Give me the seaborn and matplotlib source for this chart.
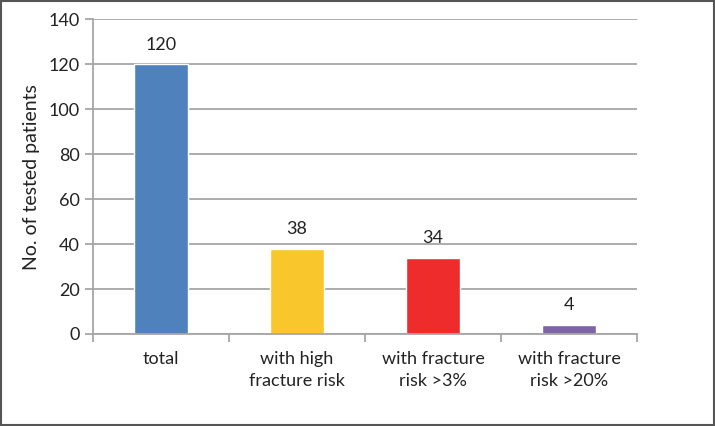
import pandas as pd
import matplotlib.pyplot as plt
import seaborn as sns

# chart data
categories = ["total", "with high\nfracture risk", "with fracture\nrisk >3%", "with fracture\nrisk >20%"]
patients = [120, 38, 34, 4]
bar_colors = ["#4F81BD", "#F9C62B", "#EE2C2C", "#7F63A8"]

df = pd.DataFrame({"group": categories, "patients": patients})

sns.set_style("white")
plt.rcParams["font.family"] = ["Lato", "DejaVu Sans"]

fig = plt.figure(figsize=(7.15, 4.26), dpi=100)
ax = fig.add_axes([0.130, 0.216, 0.761, 0.739])

sns.barplot(data=df, x="group", y="patients", hue="group", palette=bar_colors,
            width=0.4, legend=False, ax=ax, saturation=1)

# value labels above bars
for i, v in enumerate(patients):
    ax.text(i, v + 6.5, str(v), ha="center", va="baseline", fontsize=13, color="#222222")

ax.set_ylim(0, 140)
ax.set_xlim(-0.5, 3.5)
ax.set_yticks(range(0, 141, 20))
ax.yaxis.grid(True, color="#a6a6a6", linewidth=1.3)
ax.set_axisbelow(True)

for side in ["top", "right"]:
    ax.spines[side].set_visible(False)
ax.spines["left"].set_color("#a6a6a6")
ax.spines["bottom"].set_color("#a6a6a6")
ax.spines["left"].set_linewidth(1.3)
ax.spines["bottom"].set_linewidth(1.3)

# x ticks at category boundaries, labels centered
ax.set_xticks([-0.5, 0.5, 1.5, 2.5, 3.5], minor=False)
ax.set_xticklabels([])
ax.set_xticks([0, 1, 2, 3], minor=True)
ax.set_xticklabels(categories, minor=True, fontsize=13, color="#222222", linespacing=1.45)
ax.tick_params(axis="x", which="major", length=6, color="#a6a6a6", width=1.3, direction="out")
ax.tick_params(axis="x", which="minor", length=0, pad=12)
ax.tick_params(axis="y", length=6, color="#a6a6a6", width=1.3, direction="out", labelsize=13,
               labelcolor="#222222")
ax.xaxis.set_tick_params(bottom=True)
ax.yaxis.set_tick_params(left=True)
for lbl in ax.get_xticklabels(minor=True):
    lbl.set_va("top")

ax.set_xlabel("")
ax.set_ylabel("No. of tested patients", fontsize=14, color="#222222", labelpad=6)

# outer frame
fig.patches.append(plt.Rectangle((0.001, 0.002), 0.997, 0.996, transform=fig.transFigure,
                                 fill=False, edgecolor="#555555", linewidth=1.5))

fig.savefig("out.png", dpi=100)
